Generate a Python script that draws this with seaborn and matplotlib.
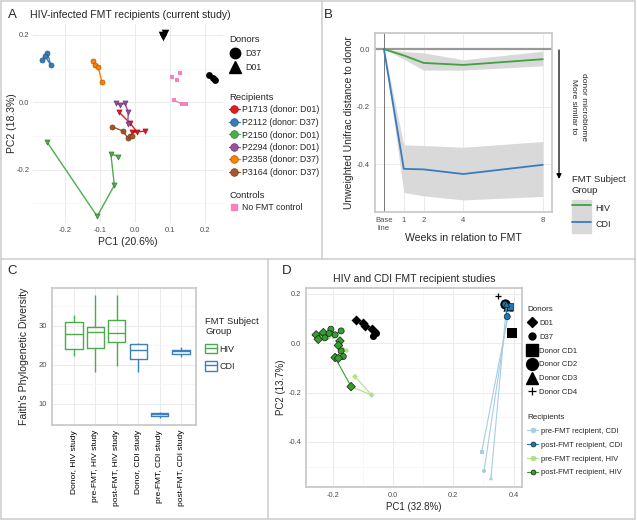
import numpy as np
import pandas as pd
import matplotlib
matplotlib.use("Agg")
import matplotlib.pyplot as plt
import matplotlib.colors as mcolors
from matplotlib.lines import Line2D
from matplotlib.patches import Patch
from matplotlib.legend_handler import HandlerTuple
import seaborn as sns

# ── Panel A: HIV PCoA (current study) ─────────────────────
a_names = ["P1713 (donor: D01)", "P2112 (donor: D37)", "P2150 (donor: D01)",
           "P2294 (donor: D01)", "P2358 (donor: D37)", "P3164 (donor: D37)"]
a_colors = ["#E41A1C", "#377EB8", "#4DAF4A", "#984EA3", "#FF7F00", "#A65628"]
a_donor_of = ["D01", "D37", "D01", "D01", "D37", "D37"]
p1713_x = [-0.045, -0.014, 0.005, -0.010, 0.029]
p1713_y = [-0.030, -0.062, -0.087, -0.088, -0.086]
p2112_x = [-0.266, -0.250, -0.241, -0.257]
p2112_y = [0.126, 0.146, 0.111, 0.136]
p2150_x = [-0.252, -0.108, -0.059, -0.069, -0.048]
p2150_y = [-0.117, -0.338, -0.246, -0.153, -0.161]
p2294_x = [-0.054, -0.043, -0.029, -0.019, -0.021]
p2294_y = [-0.003, -0.008, -0.003, -0.030, -0.065]
p2358_x = [-0.121, -0.114, -0.105, -0.095]
p2358_y = [0.121, 0.109, 0.104, 0.061]
p3164_x = [-0.067, -0.035, -0.021, -0.014, -0.008]
p3164_y = [-0.072, -0.085, -0.105, -0.100, -0.099]
d01_x = [0.079, 0.086, 0.076]
d01_y = [0.193, 0.205, 0.198]
d37_x = [0.211, 0.222, 0.229]
d37_y = [0.081, 0.073, 0.066]
ctrl_up_x = [0.105, 0.119, 0.129]
ctrl_up_y = [0.076, 0.066, 0.086]
ctrl_lo_x = [0.110, 0.133, 0.146]
ctrl_lo_y = [0.007, -0.005, -0.005]

# ── Panel B: distance to donor over time ──────────────────
weeks = [0, 1, 2, 4, 8]
hiv_mean = [0.0, -0.022, -0.048, -0.055, -0.035]
hiv_lo = [0.0, -0.035, -0.073, -0.073, -0.058]
hiv_hi = [0.0, -0.008, -0.013, -0.037, -0.007]
cdi_mean = [0.0, -0.416, -0.418, -0.434, -0.402]
cdi_lo = [0.0, -0.498, -0.510, -0.524, -0.512]
cdi_hi = [0.0, -0.333, -0.335, -0.341, -0.321]

# ── Panel C: Faith's PD (min, q1, median, q3, max) ────────
c_samples = ["Donor, HIV study", "pre-FMT, HIV study", "post-FMT, HIV study",
             "Donor, CDI study", "pre-FMT, CDI study", "post-FMT, CDI study"]
c_groups = ["HIV", "HIV", "HIV", "CDI", "CDI", "CDI"]
c_stats = [[22.3, 24.1, 27.9, 31.1, 32.8],
           [18.3, 24.3, 28.3, 29.8, 38.0],
           [19.7, 25.8, 28.2, 31.4, 38.0],
           [18.1, 21.4, 23.8, 25.3, 25.7],
           [6.3, 6.8, 7.3, 7.8, 8.0],
           [22.0, 22.9, 23.5, 23.9, 24.7]]

# ── Panel D: HIV + CDI PCoA ───────────────────────────────
dd01_x = [-0.124, -0.098, -0.093, -0.071]
dd01_y = [0.095, 0.081, 0.068, 0.057]
dd37_x = [-0.060, -0.065, -0.055]
dd37_y = [0.047, 0.030, 0.040]
cd_names = ["Donor CD1", "Donor CD2", "Donor CD3", "Donor CD4"]
cd_x = [0.396, 0.372, 0.382, 0.350]
cd_y = [0.041, 0.158, 0.152, 0.192]
# recipients: (donor, x list, y list, pre/post list, study)
d_recips = [
    ("D01", [-0.214, -0.255, -0.248, -0.231], [0.024, 0.034, 0.016, 0.043], ["pre", "post", "post", "post"], "HIV"),
    ("D37", [-0.198, -0.206, -0.192, -0.172], [0.026, 0.057, 0.034, 0.050], ["pre", "post", "post", "post"], "HIV"),
    ("D01", [-0.163, -0.176, -0.181], [-0.027, 0.009, -0.009], ["pre", "post", "post"], "HIV"),
    ("D37", [-0.154, -0.172, -0.165], [-0.030, -0.031, -0.054], ["pre", "post", "post"], "HIV"),
    ("D01", [-0.126, -0.071, -0.139, -0.192, -0.181], [-0.135, -0.210, -0.176, -0.058, -0.061],
     ["pre", "pre", "post", "post", "post"], "HIV"),
    ("D37", [-0.222, -0.226, -0.212], [0.036, 0.022, 0.040], ["pre", "post", "post"], "HIV"),
    ("Donor CD1", [0.294, 0.388], [-0.442, 0.149], ["pre", "post"], "CDI"),
    ("Donor CD2", [0.302, 0.379, 0.372], [-0.518, 0.108, 0.158], ["pre", "post", "post"], "CDI"),
    ("Donor CD3", [0.325, 0.377], [-0.547, 0.158], ["pre", "post"], "CDI"),
]
d_pal = {"pre-FMT recipient, CDI": "#A6CEE3", "post-FMT recipient, CDI": "#1F78B4",
         "pre-FMT recipient, HIV": "#B2DF8A", "post-FMT recipient, HIV": "#33A02C"}

sns.set_theme(style="white")
plt.rcParams["font.family"] = ["Liberation Sans", "DejaVu Sans"]
plt.rcParams["axes.edgecolor"] = "#c8c8c8"
plt.rcParams["axes.unicode_minus"] = False

W, H = 637, 521
fig = plt.figure(figsize=(W / 100, H / 100), dpi=100)
GRID = "#ebebeb"
TICK = "#4d4d4d"


def px_axes(x0, y0, x1, y1):
    return fig.add_axes([x0 / W, 1 - y1 / H, (x1 - x0) / W, (y1 - y0) / H])


def fx(x):
    return x / W


def fy(y):
    return 1 - y / H


def darker(c, f=0.7):
    r, g, b = mcolors.to_rgb(c)
    return (r * f, g * f, b * f)


def style_ticks(ax, size=5.5):
    ax.tick_params(axis="both", labelsize=size, labelcolor=TICK, length=2, width=0.5,
                   color="#888888", pad=1.5)


def add_legend(handles, labels, x, y, title, fs, tfs, **kw):
    opts = dict(loc="upper left", bbox_to_anchor=(fx(x), fy(y)), frameon=False,
                title=title, fontsize=fs, title_fontsize=tfs, alignment="left",
                borderpad=0, borderaxespad=0, handletextpad=0.4, labelspacing=0.35,
                handlelength=1.4)
    opts.update(kw)
    return fig.legend(handles, labels, **opts)


# ── panel borders ─────────────────────────────────────────
for xs, ys in [([1, 635], [1, 1]), ([1, 635], [519, 519]), ([1, 1], [1, 519]),
               ([635, 635], [1, 519]), ([1, 635], [259, 259]),
               ([322, 322], [1, 259]), ([268, 268], [259, 519])]:
    fig.add_artist(Line2D([fx(v) for v in xs], [fy(v) for v in ys], color="#cfcfcf", lw=1.2))

for lab, x, y in [("A", 12, 15), ("B", 328, 15), ("C", 12, 271), ("D", 287, 271)]:
    fig.text(fx(x), fy(y), lab, fontsize=9.5, ha="center", va="center")

# ── A ─────────────────────────────────────────────────────
axA = px_axes(33, 24, 223, 223)
a_xy = [(p1713_x, p1713_y), (p2112_x, p2112_y), (p2150_x, p2150_y),
        (p2294_x, p2294_y), (p2358_x, p2358_y), (p3164_x, p3164_y)]
for name, dn, col, (xs, ys) in zip(a_names, a_donor_of, a_colors, a_xy):
    sub = pd.DataFrame({"x": xs, "y": ys})
    sns.lineplot(data=sub, x="x", y="y", color=col, lw=1.0, sort=False, estimator=None,
                 ax=axA, zorder=2)
    sns.scatterplot(data=sub, x="x", y="y", color=col, marker="v" if dn == "D01" else "o",
                    s=13, edgecolor=darker(col), linewidth=0.5, ax=axA, zorder=3)
sns.lineplot(x=ctrl_lo_x, y=ctrl_lo_y, color="#F781BF", lw=1.0, sort=False,
             estimator=None, ax=axA)
sns.scatterplot(x=ctrl_lo_x + ctrl_up_x, y=ctrl_lo_y + ctrl_up_y, color="#F781BF",
                marker="s", s=12, linewidth=0, ax=axA, zorder=3)
sns.scatterplot(x=d01_x, y=d01_y, color="black", marker="v", s=30, linewidth=0, ax=axA)
sns.scatterplot(x=d37_x, y=d37_y, color="black", marker="o", s=24, linewidth=0, ax=axA)
axA.set_xlim(-0.2914, 0.2514)
axA.set_ylim(-0.358, 0.232)
axA.set_xticks([-0.2, -0.1, 0.0, 0.1, 0.2])
axA.set_yticks([-0.2, 0.0, 0.2])
axA.set_yticks([-0.3, -0.1, 0.1], minor=True)
axA.grid(True, which="major", color=GRID, lw=0.7)
axA.grid(True, which="minor", color="#f4f4f4", lw=0.5)
axA.set_axisbelow(True)
for s in axA.spines.values():
    s.set_visible(False)
style_ticks(axA)
axA.tick_params(axis="x", length=0, pad=3)
axA.tick_params(axis="y", pad=0.5)
axA.tick_params(which="minor", length=0)
axA.set_xlabel("PC1 (20.6%)", fontsize=7.5, labelpad=2)
axA.set_ylabel("PC2 (18.3%)", fontsize=7.5, labelpad=0)
fig.text(fx(30), fy(15), "HIV-infected FMT recipients (current study)", fontsize=7.6,
         va="center", ha="left")

hA1 = [Line2D([], [], ls="", marker="o", color="black", ms=7.5),
       Line2D([], [], ls="", marker="^", color="black", ms=8)]
add_legend(hA1, ["D37", "D01"], 229, 35, "Donors", 6.3, 6.8, labelspacing=0.55)
hA2 = [Line2D([], [], color=c, lw=0.9, marker="o", ms=5.5, mec=darker(c), mew=0.5)
       for c in a_colors]
add_legend(hA2, a_names, 229, 93, "Recipients", 6.3, 6.8, labelspacing=0.4, handlelength=1.2,
           handletextpad=0.3)
hA3 = [Line2D([], [], ls="", marker="s", color="#F781BF", ms=4.5)]
add_legend(hA3, ["No FMT control"], 229, 191, "Controls", 6.3, 6.8, handlelength=1.2,
           handletextpad=0.3)

# ── B ─────────────────────────────────────────────────────
axB = px_axes(375, 33, 552, 212)
axB.fill_between(weeks, hiv_lo, hiv_hi, color="#d9d9d9", lw=0, zorder=1)
axB.fill_between(weeks, cdi_lo, cdi_hi, color="#d9d9d9", lw=0, zorder=1)
axB.axhline(0, color="#999999", lw=1.6, zorder=2)
axB.axvline(0, color="#666666", lw=0.6, zorder=2)
dfb = pd.DataFrame({"week": weeks * 2, "dist": hiv_mean + cdi_mean,
                    "group": ["HIV"] * 5 + ["CDI"] * 5})
b_pal = {"HIV": "#3fa33f", "CDI": "#3a7bbf"}
sns.lineplot(data=dfb, x="week", y="dist", hue="group", palette=b_pal, lw=1.3,
             legend=False, ax=axB, zorder=3)
axB.set_xlim(-0.45, 8.46)
axB.set_ylim(-0.566, 0.056)
axB.set_xticks(weeks)
axB.set_xticklabels(["Base\nline", "1", "2", "4", "8"])
axB.set_yticks([-0.4, -0.2, 0.0])
axB.set_yticklabels(["-0.4", "-0.2", "0.0"])
axB.grid(True, color=GRID, lw=0.7)
axB.set_axisbelow(True)
style_ticks(axB)
axB.set_xlabel("Weeks in relation to FMT", fontsize=7.6, labelpad=1)
axB.set_ylabel("Unweighted Unifrac distance to donor", fontsize=7.5, labelpad=2)
axB.annotate("", xy=(fx(559), fy(179)), xytext=(fx(559), fy(50)),
             xycoords="figure fraction", textcoords="figure fraction",
             arrowprops=dict(arrowstyle="-|>", color="black", lw=0.9,
                             mutation_scale=7, shrinkA=0, shrinkB=0))
fig.text(fx(573), fy(107), "More similar to", rotation=270, fontsize=6, ha="center", va="center")
fig.text(fx(584), fy(107), "donor microbiome", rotation=270, fontsize=6, ha="center", va="center")
fig.text(fx(572), fy(185), "FMT Subject\nGroup", fontsize=6.8, ha="left", va="center",
         linespacing=1.25)
hB = [(Patch(color="#d9d9d9"), Line2D([], [], color=b_pal[g], lw=1.3)) for g in ["HIV", "CDI"]]
add_legend(hB, ["HIV", "CDI"], 572, 200, None, 6.5, 6.8,
           handlelength=2.1, handleheight=2.4, labelspacing=0.0, handletextpad=0.5,
           handler_map={tuple: HandlerTuple(ndivide=1, pad=0)})

# ── C ─────────────────────────────────────────────────────
axC = px_axes(52, 288, 196, 425)
rows = []
for samp, grp, vals in zip(c_samples, c_groups, c_stats):
    for v in vals:
        rows.append(dict(sample=samp, group=grp, pd=v))
dfc = pd.DataFrame(rows)
c_pal = {"HIV": "#4cab4c", "CDI": "#3d80c0"}
sns.boxplot(data=dfc, x="sample", y="pd", hue="group", palette=c_pal, fill=False,
            dodge=False, width=0.8, linewidth=1.0, showfliers=False, legend=False,
            capprops=dict(visible=False), ax=axC)
axC.set_xlim(-1.03, 5.70)
axC.set_ylim(4.6, 39.7)
axC.set_yticks([10, 20, 30])
axC.set_yticks([15, 25, 35], minor=True)
axC.grid(True, which="major", color=GRID, lw=0.7)
axC.grid(True, which="minor", axis="y", color="#f4f4f4", lw=0.5)
axC.set_axisbelow(True)
style_ticks(axC)
axC.tick_params(which="minor", length=0)
axC.tick_params(axis="x", labelrotation=90, labelsize=6, labelcolor="black")
axC.set_xlabel("")
axC.set_ylabel("Faith's Phylogenetic Diversity", fontsize=7.6, labelpad=7)
hC = [(Patch(facecolor="white", edgecolor=c_pal[g], lw=1.0),
       Line2D([], [], color=c_pal[g], lw=1.0)) for g in ["HIV", "CDI"]]
add_legend(hC, ["HIV", "CDI"], 205, 317, "FMT Subject\nGroup", 6.5, 6.8,
           handlelength=1.3, handleheight=1.3, labelspacing=0.8, handletextpad=0.3,
           handler_map={tuple: HandlerTuple(ndivide=1, pad=0)})

# ── D ─────────────────────────────────────────────────────
axD = px_axes(306, 288, 522, 487)
seg_rows, pt_rows = [], []
k = 0
for dn, xs, ys, st, study in d_recips:
    for i in range(len(xs)):
        lab = f"{st[i]}-FMT recipient, {study}"
        pt_rows.append(dict(x=xs[i], y=ys[i], status=lab, donor=dn))
        if i + 1 < len(xs):
            seg_rows.append(dict(seg=k, x=xs[i], y=ys[i], status=lab))
            seg_rows.append(dict(seg=k, x=xs[i + 1], y=ys[i + 1], status=lab))
            k += 1
dseg = pd.DataFrame(seg_rows)
dpts = pd.DataFrame(pt_rows)
sns.scatterplot(x=dd01_x, y=dd01_y, color="black", marker="D", s=26, linewidth=0, ax=axD)
sns.scatterplot(x=dd37_x, y=dd37_y, color="black", marker="o", s=26, linewidth=0, ax=axD)
cd_marks = ["s", "o", "^", "+"]
for x, y, m in zip(cd_x, cd_y, cd_marks):
    sns.scatterplot(x=[x], y=[y], color="black", marker=m, s=55 if m != "+" else 22,
                    linewidth=0 if m != "+" else 0.9, ax=axD)
sns.lineplot(data=dseg, x="x", y="y", hue="status", units="seg", estimator=None, sort=False,
             palette=d_pal, lw=0.8, legend=False, ax=axD)
d_marks = {"D01": "D", "D37": "o", "Donor CD1": "s", "Donor CD2": "o", "Donor CD3": "^"}
for lab, col in d_pal.items():
    sub = dpts[dpts.status == lab]
    post = lab.startswith("post")
    sns.scatterplot(data=sub, x="x", y="y", color=col, style="donor", markers=d_marks,
                    s=19 if post else 9, edgecolor="#1a1a1a" if post else col,
                    linewidth=0.5 if post else 0, legend=False, ax=axD, zorder=4)
axD.set_xlim(-0.2886, 0.428)
axD.set_ylim(-0.583, 0.224)
axD.set_xticks([-0.2, 0.0, 0.2, 0.4])
axD.set_xticks([-0.1, 0.1, 0.3], minor=True)
axD.set_yticks([-0.4, -0.2, 0.0, 0.2])
axD.set_yticks([-0.5, -0.3, -0.1, 0.1], minor=True)
axD.grid(True, which="major", color=GRID, lw=0.7)
axD.grid(True, which="minor", color="#f4f4f4", lw=0.5)
axD.set_axisbelow(True)
style_ticks(axD, 5.3)
axD.tick_params(which="minor", length=0)
axD.set_xlabel("PC1 (32.8%)", fontsize=7, labelpad=2)
axD.set_ylabel("PC2 (13.7%)", fontsize=7, labelpad=2)
axD.set_title("HIV and CDI FMT recipient studies", fontsize=7.6, pad=4)
hD1 = [Line2D([], [], ls="", marker="D", color="black", ms=5),
       Line2D([], [], ls="", marker="o", color="black", ms=5),
       Line2D([], [], ls="", marker="s", color="black", ms=8),
       Line2D([], [], ls="", marker="o", color="black", ms=8.5),
       Line2D([], [], ls="", marker="^", color="black", ms=8.5),
       Line2D([], [], ls="", marker="+", color="black", ms=5.5, mew=0.9)]
add_legend(hD1, ["D01", "D37"] + cd_names, 527, 306, "Donors", 5.5, 5.8,
           labelspacing=0.85, handlelength=1.3, handletextpad=0.3)
hD2 = [Line2D([], [], color=c, lw=0.8, marker="o", ms=3.5,
              mec="#1a1a1a" if l.startswith("post") else c, mew=0.5)
       for l, c in d_pal.items()]
add_legend(hD2, list(d_pal.keys()), 527, 414, "Recipients", 5.5, 5.8,
           labelspacing=0.85, handlelength=1.5, handletextpad=0.3)

fig.savefig("out.png", dpi=100)
